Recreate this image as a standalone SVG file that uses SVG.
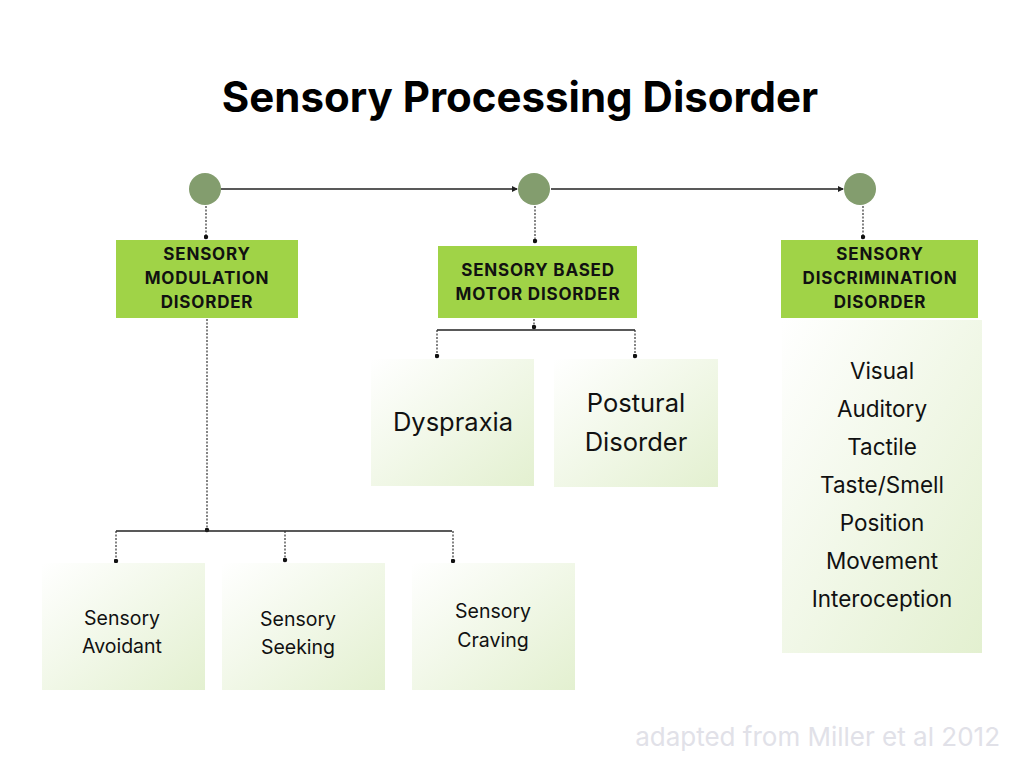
<svg xmlns="http://www.w3.org/2000/svg" width="1024" height="768" viewBox="0 0 1024 768">
<defs>
<linearGradient id="lg" x1="0" y1="0" x2="1" y2="1">
<stop offset="0" stop-color="#ffffff"/>
<stop offset="1" stop-color="#e3f0d0"/>
</linearGradient>
<marker id="arr" markerWidth="6" markerHeight="6" refX="5" refY="3" orient="auto" markerUnits="userSpaceOnUse">
<path d="M0,0 L6,3 L0,6 Z" fill="#222"/>
</marker>
<marker id="dot" markerWidth="5" markerHeight="5" refX="2.5" refY="2.5" markerUnits="userSpaceOnUse">
<circle cx="2.5" cy="2.5" r="2.2" fill="#111"/>
</marker>
</defs>
<style>
text{font-family:Inter,"Noto Sans","Liberation Sans",sans-serif;fill:#111;text-anchor:middle}
.title{font-size:42px;font-weight:700;fill:#000}
.hd{font-size:17px;font-weight:700;letter-spacing:0.8px}
.sub{font-size:19.5px}
.big{font-size:25.5px}
.lst{font-size:22.5px}
.foot{font-size:26px;fill:#e1e1e8;text-anchor:end}
.gb{fill:#a0d347}
.lb{fill:url(#lg)}
.circ{fill:#839d6e}
.solid{stroke:#222;stroke-width:1.3;fill:none}
.dash{stroke:#333;stroke-width:1.2;stroke-dasharray:2 1.5;fill:none}
</style>
<rect width="1024" height="768" fill="#fff"/>
<text class="title" x="520" y="112">Sensory Processing Disorder</text>

<g id="connectors">
<line class="solid" x1="221" y1="189" x2="517" y2="189" marker-end="url(#arr)"/>
<line class="solid" x1="551" y1="189" x2="843" y2="189" marker-end="url(#arr)"/>
<line class="dash" x1="206" y1="206" x2="206" y2="237" marker-end="url(#dot)"/>
<line class="dash" x1="535" y1="206" x2="535" y2="241" marker-end="url(#dot)"/>
<line class="dash" x1="863" y1="206" x2="863" y2="237" marker-end="url(#dot)"/>
<line class="dash" x1="207" y1="319" x2="207" y2="530" marker-end="url(#dot)"/>
<line class="solid" x1="116" y1="531" x2="452" y2="531"/>
<line class="dash" x1="116" y1="531" x2="116" y2="561" marker-end="url(#dot)"/>
<line class="dash" x1="285" y1="531" x2="285" y2="560" marker-end="url(#dot)"/>
<line class="dash" x1="453" y1="531" x2="453" y2="561" marker-end="url(#dot)"/>
<line class="dash" x1="534" y1="319" x2="534" y2="327" marker-end="url(#dot)"/>
<line class="solid" x1="437" y1="330" x2="635" y2="330"/>
<line class="dash" x1="437" y1="330" x2="437" y2="356" marker-end="url(#dot)"/>
<line class="dash" x1="635" y1="330" x2="635" y2="356" marker-end="url(#dot)"/>
</g>

<g id="c1"><circle class="circ" cx="205" cy="189" r="16"/></g>
<g id="c2"><circle class="circ" cx="534" cy="189" r="16"/></g>
<g id="c3"><circle class="circ" cx="860" cy="189" r="16"/></g>

<g id="smd">
<rect class="gb" x="116" y="240" width="182" height="78"/>
<text class="hd" x="207" y="260">SENSORY</text>
<text class="hd" x="207" y="284">MODULATION</text>
<text class="hd" x="207" y="308">DISORDER</text>
</g>
<g id="sbmd">
<rect class="gb" x="438" y="246" width="199" height="72"/>
<text class="hd" x="538" y="276">SENSORY BASED</text>
<text class="hd" x="538" y="300">MOTOR DISORDER</text>
</g>
<g id="sdd">
<rect class="gb" x="781" y="240" width="197" height="78"/>
<text class="hd" x="880" y="260">SENSORY</text>
<text class="hd" x="880" y="284">DISCRIMINATION</text>
<text class="hd" x="880" y="308">DISORDER</text>
</g>

<g id="avoidant">
<rect class="lb" x="42" y="563" width="163" height="127"/>
<text class="sub" x="122" y="625">Sensory</text>
<text class="sub" x="122" y="653">Avoidant</text>
</g>
<g id="seeking">
<rect class="lb" x="222" y="563" width="163" height="127"/>
<text class="sub" x="298" y="626">Sensory</text>
<text class="sub" x="298" y="654">Seeking</text>
</g>
<g id="craving">
<rect class="lb" x="412" y="563" width="163" height="127"/>
<text class="sub" x="493" y="618">Sensory</text>
<text class="sub" x="493" y="647">Craving</text>
</g>

<g id="dyspraxia">
<rect class="lb" x="371" y="359" width="163" height="127"/>
<text class="big" x="453" y="431">Dyspraxia</text>
</g>
<g id="postural">
<rect class="lb" x="554" y="359" width="164" height="128"/>
<text class="big" x="636" y="412">Postural</text>
<text class="big" x="636" y="451">Disorder</text>
</g>

<g id="sdd-list">
<rect class="lb" x="782" y="320" width="200" height="333"/>
<text class="lst" x="882" y="379">Visual</text>
<text class="lst" x="882" y="417">Auditory</text>
<text class="lst" x="882" y="455">Tactile</text>
<text class="lst" x="882" y="493">Taste/Smell</text>
<text class="lst" x="882" y="531">Position</text>
<text class="lst" x="882" y="569">Movement</text>
<text class="lst" x="882" y="607">Interoception</text>
</g>

<text class="foot" x="1000" y="746">adapted from Miller et al 2012</text>
</svg>
